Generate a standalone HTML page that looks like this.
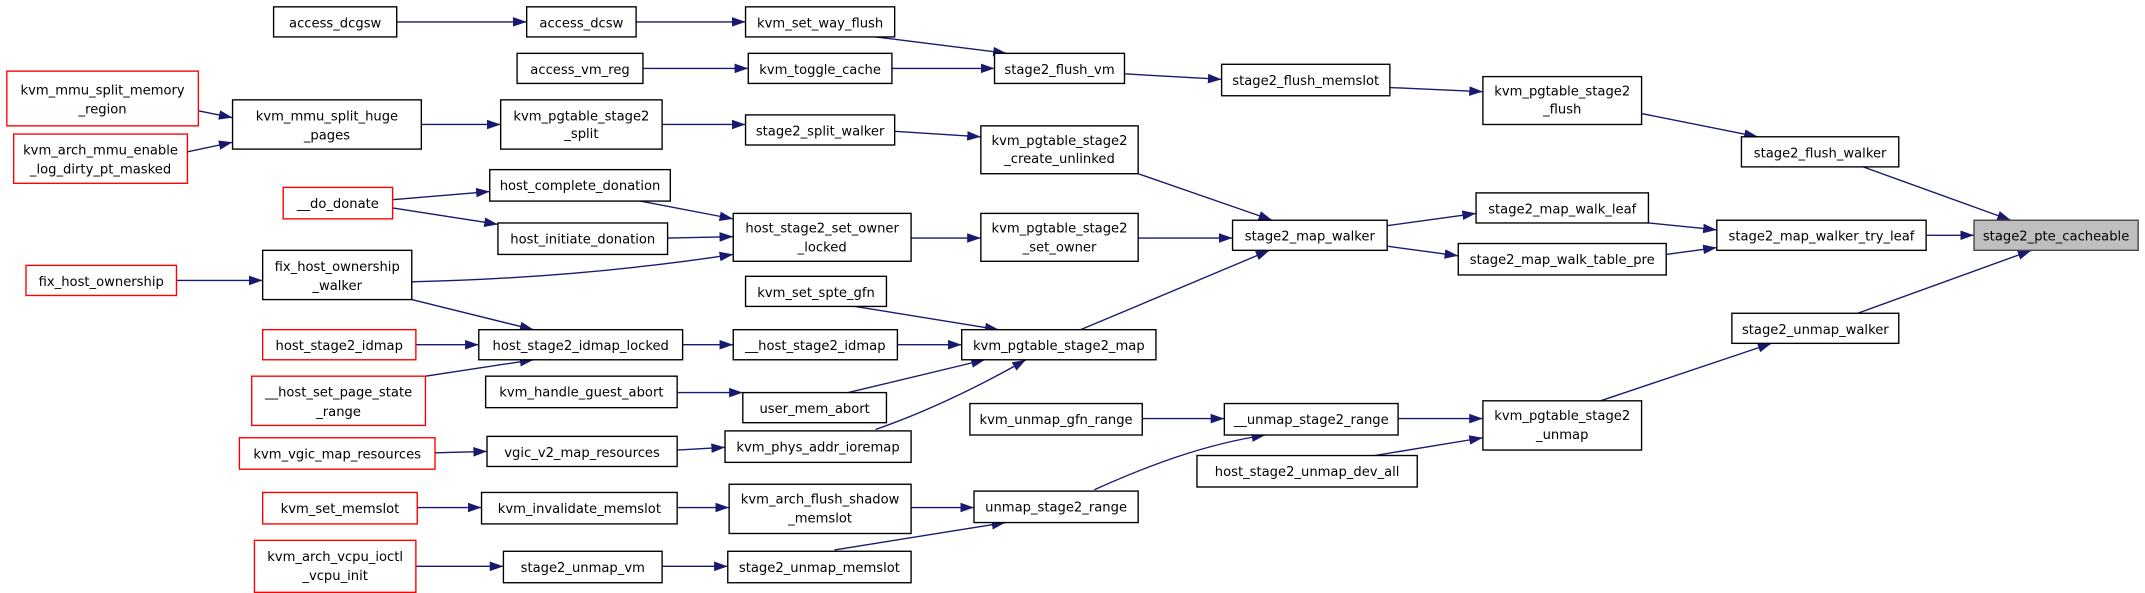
<!DOCTYPE html>
<html><head><meta charset="utf-8"><style>
html,body{margin:0;padding:0;background:#fff;}
svg{display:block;}
text{font-family:"DejaVu Sans","Liberation Sans",sans-serif;font-size:9.6px;fill:#000;text-anchor:middle;}
.n{fill:#fff;stroke:#000;stroke-width:1;}
.r{fill:#fff;stroke:#ff0000;stroke-width:1;}
.g{fill:#bfbfbf;stroke:#444;stroke-width:1;}
.e{stroke:#191970;stroke-width:1;fill:none;marker-end:url(#a);}
</style></head><body>
<svg width="2145" height="593" viewBox="0 0 1568 433.5" preserveAspectRatio="none" xmlns="http://www.w3.org/2000/svg">
<defs><marker id="a" markerUnits="userSpaceOnUse" markerWidth="11" markerHeight="8" refX="10" refY="3.5" orient="auto"><path d="M0,0 L10,3.5 L0,7 z" fill="#191970"/></marker></defs>
<g>
<path class="e" d="M290,16 L385,16"/>
<path class="e" d="M465,16 L545,16"/>
<path class="e" d="M640,27 L736,39"/>
<path class="e" d="M470,50 L547,50"/>
<path class="e" d="M652,50 L727,50"/>
<path class="e" d="M822,54 L893,58"/>
<path class="e" d="M1016,64 L1084,67"/>
<path class="e" d="M1200,83 L1285,100"/>
<path class="e" d="M1362,122 L1470,161"/>
<path class="e" d="M145,81 L170,86"/>
<path class="e" d="M137,111 L170,104"/>
<path class="e" d="M308,91 L366,91"/>
<path class="e" d="M484,91 L545,91"/>
<path class="e" d="M654,96 L717,100"/>
<path class="e" d="M832,127 L930,161"/>
<path class="e" d="M287,146 L358,140"/>
<path class="e" d="M287,152 L364,164"/>
<path class="e" d="M468,147 L536,160"/>
<path class="e" d="M488,174 L536,173"/>
<path class="e" d="M301,206 C390,204 470,196 536,186"/>
<path class="e" d="M666,174 L717,174"/>
<path class="e" d="M832,174 L901,174"/>
<path class="e" d="M1014,165 L1079,156"/>
<path class="e" d="M1014,180 L1066,187"/>
<path class="e" d="M1205,163 L1255,168"/>
<path class="e" d="M1218,186 L1255,181"/>
<path class="e" d="M1408,172 L1443,172"/>
<path class="e" d="M129,205 L192,205"/>
<path class="e" d="M301,219 L390,241"/>
<path class="e" d="M304,252 L350,252"/>
<path class="e" d="M311,275 L390,263"/>
<path class="e" d="M499,252 L536,252"/>
<path class="e" d="M656,252 L703,252"/>
<path class="e" d="M625,224 L730,241"/>
<path class="e" d="M790,241 L928,183"/>
<path class="e" d="M495,287 L543,287"/>
<path class="e" d="M620,287 L720,263"/>
<path class="e" d="M640,314 C680,300 720,280 750,263"/>
<path class="e" d="M318,331 L356,330"/>
<path class="e" d="M495,329 L530,327"/>
<path class="e" d="M835,306 L895,306"/>
<path class="e" d="M1022,306 L1084,306"/>
<path class="e" d="M1005,333 L1084,320"/>
<path class="e" d="M1170,293 L1295,251"/>
<path class="e" d="M1358,229 L1485,183"/>
<path class="e" d="M305,371 L352,371"/>
<path class="e" d="M495,371 L533,371"/>
<path class="e" d="M666,371 L712,371"/>
<path class="e" d="M800,358 C840,340 880,325 925,318"/>
<path class="e" d="M304,414 L368,414"/>
<path class="e" d="M484,414 L532,414"/>
<path class="e" d="M610,402 L735,382"/>
</g>
<g>
<rect class="n" x="200" y="5" width="90" height="22"/><text x="245" y="20">access_dcgsw</text>
<rect class="n" x="385" y="5" width="80" height="22"/><text x="425" y="20">access_dcsw</text>
<rect class="n" x="545" y="5" width="109" height="22"/><text x="599.5" y="20">kvm_set_way_flush</text>
<rect class="n" x="378" y="39" width="92" height="22"/><text x="424" y="54">access_vm_reg</text>
<rect class="n" x="547" y="39" width="105" height="22"/><text x="599.5" y="54">kvm_toggle_cache</text>
<rect class="n" x="727" y="39" width="95" height="22"/><text x="774.5" y="54">stage2_flush_vm</text>
<rect class="n" x="893" y="47" width="123" height="23"/><text x="954.5" y="62">stage2_flush_memslot</text>
<rect class="n" x="1084" y="56" width="116" height="35"/><text x="1142" y="70">kvm_pgtable_stage2</text><text x="1142" y="83">_flush</text>
<rect class="r" x="5" y="52" width="140" height="40"/><text x="75" y="69">kvm_mmu_split_memory</text><text x="75" y="83">_region</text>
<rect class="n" x="170" y="73" width="138" height="36"/><text x="239" y="88">kvm_mmu_split_huge</text><text x="239" y="102">_pages</text>
<rect class="n" x="366" y="73" width="118" height="36"/><text x="425" y="88">kvm_pgtable_stage2</text><text x="425" y="101">_split</text>
<rect class="n" x="545" y="84" width="109" height="22"/><text x="599.5" y="99">stage2_split_walker</text>
<rect class="n" x="717" y="92" width="115" height="35"/><text x="774.5" y="106">kvm_pgtable_stage2</text><text x="774.5" y="119">_create_unlinked</text>
<rect class="r" x="10" y="98" width="127" height="36"/><text x="73.5" y="113">kvm_arch_mmu_enable</text><text x="73.5" y="127">_log_dirty_pt_masked</text>
<rect class="n" x="1273" y="100" width="115" height="22"/><text x="1330.5" y="115">stage2_flush_walker</text>
<rect class="n" x="358" y="124" width="132" height="23"/><text x="424" y="139">host_complete_donation</text>
<rect class="r" x="207" y="137" width="80" height="23"/><text x="247" y="152">__do_donate</text>
<rect class="n" x="1079" y="141" width="126" height="22"/><text x="1142" y="156">stage2_map_walk_leaf</text>
<rect class="n" x="536" y="156" width="130" height="35"/><text x="601" y="170">host_stage2_set_owner</text><text x="601" y="184">_locked</text>
<rect class="n" x="717" y="156" width="115" height="35"/><text x="774.5" y="170">kvm_pgtable_stage2</text><text x="774.5" y="184">_set_owner</text>
<rect class="n" x="901" y="161" width="113" height="22"/><text x="957.5" y="176">stage2_map_walker</text>
<rect class="n" x="1255" y="161" width="153" height="22"/><text x="1331.5" y="176">stage2_map_walker_try_leaf</text>
<rect class="g" x="1443" y="161" width="120" height="22"/><text x="1503" y="176">stage2_pte_cacheable</text>
<rect class="n" x="364" y="163" width="124" height="23"/><text x="426" y="178">host_initiate_donation</text>
<rect class="n" x="1066" y="178" width="152" height="23"/><text x="1142" y="193">stage2_map_walk_table_pre</text>
<rect class="r" x="19" y="194" width="110" height="22"/><text x="74" y="209">fix_host_ownership</text>
<rect class="n" x="192" y="183" width="109" height="36"/><text x="246.5" y="198">fix_host_ownership</text><text x="246.5" y="212">_walker</text>
<rect class="n" x="545" y="202" width="103" height="22"/><text x="596.5" y="217">kvm_set_spte_gfn</text>
<rect class="r" x="192" y="241" width="112" height="22"/><text x="248" y="256">host_stage2_idmap</text>
<rect class="n" x="350" y="241" width="149" height="22"/><text x="424.5" y="256">host_stage2_idmap_locked</text>
<rect class="n" x="536" y="241" width="120" height="22"/><text x="596" y="256">__host_stage2_idmap</text>
<rect class="n" x="703" y="241" width="142" height="22"/><text x="774" y="256">kvm_pgtable_stage2_map</text>
<rect class="n" x="1266" y="229" width="122" height="22"/><text x="1327" y="244">stage2_unmap_walker</text>
<rect class="r" x="184" y="275" width="127" height="36"/><text x="247.5" y="290">__host_set_page_state</text><text x="247.5" y="304">_range</text>
<rect class="n" x="355" y="275" width="140" height="23"/><text x="425" y="290">kvm_handle_guest_abort</text>
<rect class="n" x="543" y="287" width="105" height="22"/><text x="595.5" y="302">user_mem_abort</text>
<rect class="n" x="709" y="295" width="126" height="23"/><text x="772" y="310">kvm_unmap_gfn_range</text>
<rect class="n" x="895" y="295" width="127" height="23"/><text x="958.5" y="310">__unmap_stage2_range</text>
<rect class="n" x="1084" y="293" width="116" height="36"/><text x="1142" y="307">kvm_pgtable_stage2</text><text x="1142" y="321">_unmap</text>
<rect class="r" x="175" y="320" width="143" height="23"/><text x="246.5" y="335">kvm_vgic_map_resources</text>
<rect class="n" x="356" y="319" width="139" height="22"/><text x="425.5" y="334">vgic_v2_map_resources</text>
<rect class="n" x="530" y="315" width="136" height="23"/><text x="598" y="330">kvm_phys_addr_ioremap</text>
<rect class="n" x="875" y="333" width="161" height="23"/><text x="955.5" y="348">host_stage2_unmap_dev_all</text>
<rect class="r" x="192" y="360" width="113" height="23"/><text x="248.5" y="375">kvm_set_memslot</text>
<rect class="n" x="352" y="360" width="143" height="23"/><text x="423.5" y="375">kvm_invalidate_memslot</text>
<rect class="n" x="533" y="354" width="133" height="36"/><text x="599.5" y="368">kvm_arch_flush_shadow</text><text x="599.5" y="382">_memslot</text>
<rect class="n" x="712" y="359" width="120" height="23"/><text x="772" y="374">unmap_stage2_range</text>
<rect class="r" x="186" y="395" width="118" height="38"/><text x="245" y="410">kvm_arch_vcpu_ioctl</text><text x="245" y="424">_vcpu_init</text>
<rect class="n" x="368" y="403" width="116" height="23"/><text x="426" y="418">stage2_unmap_vm</text>
<rect class="n" x="532" y="403" width="134" height="23"/><text x="599" y="418">stage2_unmap_memslot</text>
</g>
</svg>
</body></html>
